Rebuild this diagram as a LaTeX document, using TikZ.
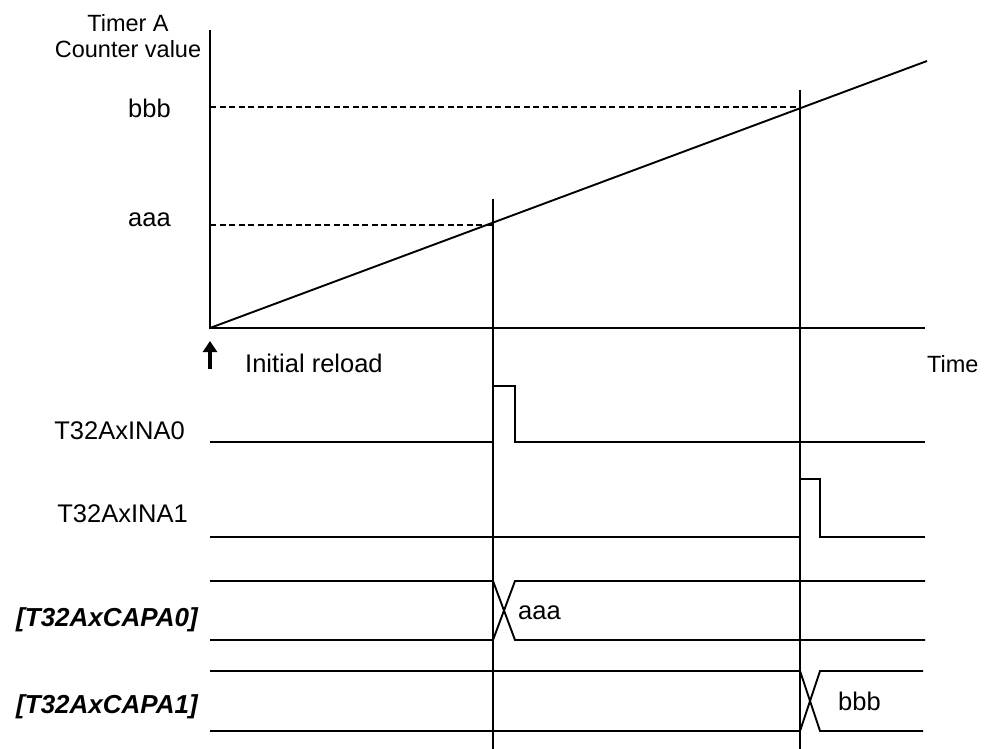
\documentclass[tikz,border=0pt]{standalone}
\usepackage{fontspec}
\setmainfont{Liberation Sans}
\usetikzlibrary{arrows.meta}
\begin{document}
\begin{tikzpicture}[x=1pt,y=-1pt,
  wire/.style={line width=1.9pt},
  guide/.style={line width=1.4pt,dash pattern=on 6pt off 3.5pt},
  lbl/.style={inner sep=0pt,font=\fontsize{25.5}{27}\selectfont},
  axlbl/.style={inner sep=0pt,font=\fontsize{23.5}{26}\selectfont},
  buslbl/.style={inner sep=0pt,font=\fontsize{26}{28}\selectfont\bfseries\itshape}]
\useasboundingbox (0,0) rectangle (986,749);

% key points of the counter graph
\coordinate (O) at (210,328);
\coordinate (ytop) at (210,30);
\coordinate (xend) at (925,328);
\coordinate (rampend) at (927,61);
\coordinate (hitA) at (493,225);
\coordinate (hitB) at (800,107);
\coordinate (yA) at (210,225);
\coordinate (yB) at (210,107);

% axes and counter ramp
\draw[wire] (ytop) -- (O) -- (xend);
\draw[wire] (O) -- (rampend);
\draw[guide] (yA) -- (hitA);
\draw[guide] (yB) -- (hitB);

% capture instants
\coordinate (capAtop) at (493,199);
\coordinate (capAbot) at (493,749);
\coordinate (capBtop) at (800,90);
\coordinate (capBbot) at (800,749);
\draw[wire] (capAtop) -- (capAbot);
\draw[wire] (capBtop) -- (capBbot);

% axis labels
\node[axlbl,anchor=base] (ylabel1) at (128,32) {Timer A};
\node[axlbl,anchor=base] (ylabel2) at (128,58) {Counter value};
\node[axlbl,anchor=base west] (tlabel) at (927,372) {Time};
\node[lbl,anchor=base west] (bbb) at (128,118) {bbb};
\node[lbl,anchor=base west] (aaa) at (128,226) {aaa};

% initial reload marker
\coordinate (arrowtail) at (210,369);
\coordinate (arrowtip) at (210,341);
\draw[line width=3.5pt,-{Triangle[width=14pt,length=11pt]}] (arrowtail) -- (arrowtip);
\node[lbl,anchor=base west] (reload) at (245,372) {Initial reload};

% input pulses
\node[lbl,anchor=base east] (ina0) at (185,439) {T32AxINA0};
\draw[wire] (210,442) -- (493,442) -- (493,386) -- (515,386) -- (515,442) -- (925,442);
\node[lbl,anchor=base east] (ina1) at (188,522) {T32AxINA1};
\draw[wire] (210,537) -- (800,537) -- (800,479) -- (820,479) -- (820,537) -- (925,537);

% capture register A0
\node[buslbl,anchor=base east] (capa0) at (198,626) {[T32AxCAPA0]};
\draw[wire] (210,581) -- (493,581) -- (515,640) -- (925,640);
\draw[wire] (210,640) -- (493,640) -- (515,581) -- (925,581);
\node[lbl,anchor=base west] (vala) at (518,619) {aaa};

% capture register A1
\node[buslbl,anchor=base east] (capa1) at (198,713) {[T32AxCAPA1]};
\draw[wire] (210,671) -- (800,671) -- (820,731) -- (923,731);
\draw[wire] (210,731) -- (800,731) -- (820,671) -- (923,671);
\node[lbl,anchor=base west] (valb) at (838,710) {bbb};
\end{tikzpicture}
\end{document}
